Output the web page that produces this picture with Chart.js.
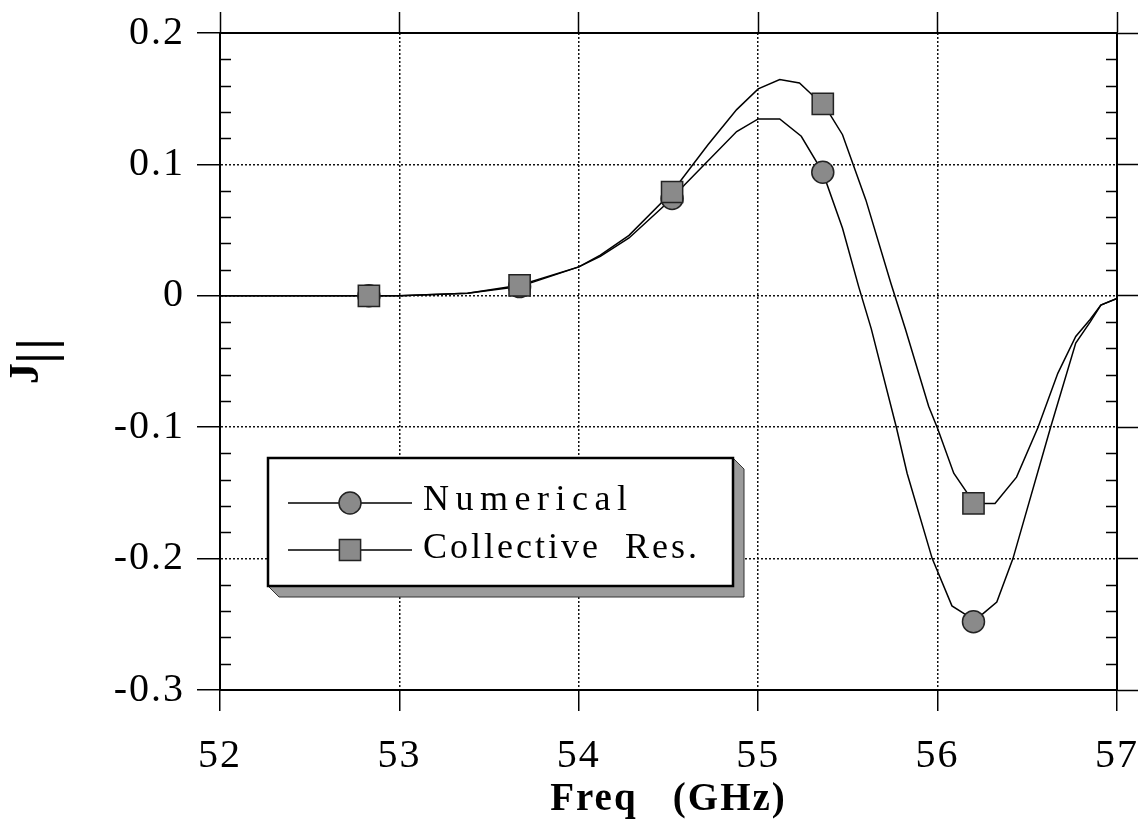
<!DOCTYPE html>
<html>
<head>
<meta charset="utf-8">
<script src="https://cdn.jsdelivr.net/npm/chart.js@4.4.1/dist/chart.umd.min.js"></script>
<style>
  html, body { margin: 0; padding: 0; background: #fff; }
  #wrap { width: 1147px; height: 824px; }
</style>
</head>
<body>
<div id="wrap"><canvas id="jChart" width="1147" height="824"></canvas></div>
<script>
// numerical curve
const freqNum = [52, 52.83, 53.0, 53.38, 53.67, 54.0, 54.12, 54.28, 54.52, 54.59, 54.88, 55.0, 55.12, 55.24, 55.36, 55.47, 55.56, 55.63, 55.77, 55.83, 55.97, 56.08, 56.15, 56.2, 56.33, 56.42, 56.63, 56.77, 56.85, 56.91, 57.0];
const jNum = [0, 0, 0, 0.002, 0.007, 0.022, 0.030, 0.044, 0.074, 0.0845, 0.125, 0.1346, 0.1346, 0.1214, 0.0939, 0.0514, 0.007, -0.025, -0.1, -0.135, -0.2, -0.236, -0.242, -0.248, -0.233, -0.2, -0.1, -0.036, -0.02, -0.007, -0.002];

// collective resonance curve
const freqCol = [52, 52.83, 53.0, 53.38, 53.67, 54.0, 54.12, 54.28, 54.52, 54.72, 54.88, 55.0, 55.12, 55.23, 55.3, 55.36, 55.4, 55.47, 55.6, 55.74, 55.82, 55.95, 56.0, 56.09, 56.16, 56.2, 56.32, 56.44, 56.56, 56.67, 56.77, 56.85, 56.91, 57.0];
const jCol = [0, 0, 0, 0.002, 0.008, 0.022, 0.031, 0.046, 0.079, 0.115, 0.1417, 0.1575, 0.1646, 0.162, 0.153, 0.146, 0.138, 0.1226, 0.073, 0.0094, -0.025, -0.084, -0.101, -0.135, -0.149, -0.158, -0.158, -0.138, -0.1, -0.059, -0.031, -0.018, -0.007, -0.002];

// marked points
const markFreq = [52.83, 53.67, 54.52, 55.36, 56.2];
const markNum = [0, 0.007, 0.074, 0.094, -0.248];
const markCol = [0, 0.008, 0.079, 0.146, -0.158];

const xTickLabels = ['52', '53', '54', '55', '56', '57'];
const yTickLabels = ['-0.3', '-0.2', '-0.1', '0', '0.1', '0.2'];
const legendLabels = ['Numerical', 'Collective  Res.'];

const serif = "'Liberation Serif', 'Times New Roman', serif";
Chart.defaults.font.family = serif;
Chart.defaults.color = '#000';

const pts = (xs, ys) => xs.map((x, i) => ({ x: x, y: ys[i] }));

// fixed axis sizes so the plot box matches the original
const fitX = h => s => { s.height = h; s.paddingLeft = 0; s.paddingRight = 0; };
const fitY = w => s => { s.width = w; s.paddingTop = 0; s.paddingBottom = 0; };

// minor ticks, y title and the boxed legend
const extras = {
  id: 'extras',
  beforeDraw(chart) {
    chart.ctx.letterSpacing = '2px';
  },
  afterDraw(chart) {
    const ctx = chart.ctx;
    const ca = chart.chartArea;
    const ys = chart.scales.y;
    ctx.save();
    ctx.letterSpacing = '0px';

    // minor ticks every 0.02 inside left and right axes
    ctx.strokeStyle = '#000';
    ctx.lineWidth = 1.5;
    ctx.beginPath();
    for (let k = -15; k <= 10; k++) {
      if (k % 5 === 0) continue;
      const py = Math.round(ys.getPixelForValue(k * 0.02)) + 0.5;
      ctx.moveTo(ca.left, py); ctx.lineTo(ca.left + 11, py);
      ctx.moveTo(ca.right, py); ctx.lineTo(ca.right - 11, py);
    }
    ctx.stroke();

    // y axis title: J with || subscript
    ctx.save();
    ctx.translate(38, 384);
    ctx.rotate(-Math.PI / 2);
    ctx.fillStyle = '#000';
    ctx.textAlign = 'left';
    ctx.textBaseline = 'alphabetic';
    ctx.font = 'bold 42px ' + serif;
    ctx.fillText('J', 0, 0);
    ctx.font = 'bold 52px ' + serif;
    ctx.textAlign = 'center';
    ctx.textBaseline = 'middle';
    ctx.fillText('|', 26, 2);
    ctx.fillText('|', 40, 2);
    ctx.restore();

    // legend box with shadow
    const bx = ca.left + 48, by = 458, bw = 465, bh = 128, sh = 11;
    ctx.fillStyle = '#9b9b9b';
    ctx.beginPath();
    ctx.moveTo(bx + bw, by);
    ctx.lineTo(bx + bw + sh, by + sh);
    ctx.lineTo(bx + bw + sh, by + bh + sh);
    ctx.lineTo(bx + sh, by + bh + sh);
    ctx.lineTo(bx, by + bh);
    ctx.closePath();
    ctx.fill();
    ctx.strokeStyle = '#333';
    ctx.lineWidth = 1;
    ctx.stroke();
    ctx.fillStyle = '#fff';
    ctx.fillRect(bx, by, bw, bh);
    ctx.strokeStyle = '#000';
    ctx.lineWidth = 2.5;
    ctx.strokeRect(bx, by, bw, bh);

    const rows = [
      { ds: chart.data.datasets[2], y: 503, base: 510, spacing: '6.5px' },
      { ds: chart.data.datasets[3], y: 550, base: 558, spacing: '3px' }
    ];
    rows.forEach((r, i) => {
      ctx.strokeStyle = '#000';
      ctx.lineWidth = 1.5;
      ctx.beginPath();
      ctx.moveTo(bx + 20, r.y); ctx.lineTo(bx + 144, r.y);
      ctx.stroke();
      ctx.fillStyle = r.ds.pointBackgroundColor;
      ctx.strokeStyle = r.ds.pointBorderColor;
      ctx.lineWidth = r.ds.pointBorderWidth;
      Chart.helpers.drawPoint(ctx, {
        pointStyle: r.ds.pointStyle, radius: r.ds.pointRadius, borderWidth: r.ds.pointBorderWidth, rotation: 0
      }, bx + 82, r.y);
      ctx.fillStyle = '#000';
      ctx.font = '36px ' + serif;
      ctx.textAlign = 'left';
      ctx.textBaseline = 'alphabetic';
      ctx.letterSpacing = r.spacing;
      ctx.fillText(legendLabels[i], bx + 155, r.base);
    });
    ctx.restore();
    ctx.letterSpacing = '0px';
  }
};

const ctx = document.getElementById('jChart').getContext('2d');
const jChart = new Chart(ctx, {
  type: 'line',
  data: {
    datasets: [
      {
        label: 'Numerical curve',
        data: pts(freqNum, jNum),
        borderColor: '#000', borderWidth: 1.5,
        pointRadius: 0, tension: 0, fill: false, order: 3
      },
      {
        label: 'Collective curve',
        data: pts(freqCol, jCol),
        borderColor: '#000', borderWidth: 1.5,
        pointRadius: 0, tension: 0, fill: false, order: 2
      },
      {
        label: legendLabels[0],
        data: pts(markFreq, markNum),
        showLine: false,
        pointStyle: 'circle', pointRadius: 11,
        pointBackgroundColor: '#8a8a8a', pointBorderColor: '#222', pointBorderWidth: 1.5,
        order: 1
      },
      {
        label: legendLabels[1],
        data: pts(markFreq, markCol),
        showLine: false,
        pointStyle: 'rect', pointRadius: 15,
        pointBackgroundColor: '#8a8a8a', pointBorderColor: '#222', pointBorderWidth: 1.5,
        order: 0
      }
    ]
  },
  options: {
    responsive: false,
    animation: false,
    devicePixelRatio: 1,
    layout: { padding: 0 },
    plugins: { legend: { display: false }, tooltip: { enabled: false } },
    scales: {
      x: {
        type: 'linear', position: 'bottom', min: 52, max: 57,
        afterFit: fitX(134),
        ticks: {
          stepSize: 1, padding: 21, maxRotation: 0,
          font: { size: 40 },
          callback: (v, i) => xTickLabels[i]
        },
        grid: { color: '#111', lineWidth: 1.5, tickLength: 21, tickColor: '#000', tickWidth: 1.5, tickBorderDash: [] },
        border: { color: '#000', width: 2, dash: [2, 2] },
        title: {
          display: true, text: 'Freq   (GHz)',
          font: { size: 39, weight: 'bold' },
          padding: { top: 0, bottom: 1 }
        }
      },
      x2: {
        type: 'linear', position: 'top', min: 52, max: 57,
        afterFit: fitX(33),
        ticks: { stepSize: 1, display: false },
        grid: { drawOnChartArea: false, tickLength: 21, tickColor: '#000', tickWidth: 1.5 },
        border: { color: '#000', width: 2 }
      },
      y: {
        type: 'linear', position: 'left', min: -0.3, max: 0.2,
        afterFit: fitY(220),
        ticks: {
          stepSize: 0.1, padding: 12,
          font: { size: 40 },
          callback: (v, i) => yTickLabels[i]
        },
        grid: { color: '#111', lineWidth: 1.5, tickLength: 23, tickColor: '#000', tickWidth: 1.5, tickBorderDash: [] },
        border: { color: '#000', width: 2, dash: [2, 2] }
      },
      y2: {
        type: 'linear', position: 'right', min: -0.3, max: 0.2,
        afterFit: fitY(30),
        ticks: { stepSize: 0.1, display: false },
        grid: { drawOnChartArea: false, tickLength: 21, tickColor: '#000', tickWidth: 1.5 },
        border: { color: '#000', width: 2 }
      }
    }
  },
  plugins: [extras]
});
</script>
</body>
</html>
